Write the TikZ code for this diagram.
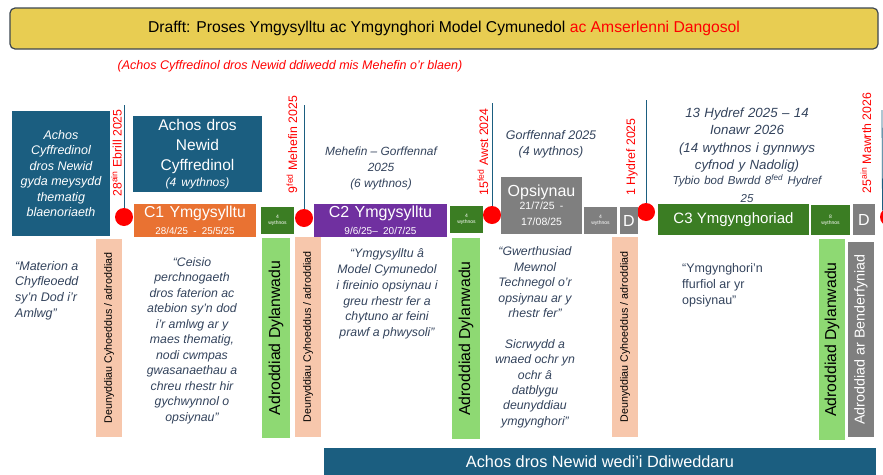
\documentclass[tikz,border=0pt]{standalone}
\usepackage{fontspec}
\setmainfont{Liberation Sans}
\definecolor{titley}{HTML}{E8CD52}
\definecolor{titleb}{HTML}{3C4650}
\definecolor{teal}{HTML}{1B5E80}
\definecolor{orng}{HTML}{E97232}
\definecolor{purp}{HTML}{7030A0}
\definecolor{dgreen}{HTML}{3B7D23}
\definecolor{lgreen}{HTML}{8ED973}
\definecolor{peach}{HTML}{F7C7AC}
\definecolor{gry}{HTML}{7F7F7F}
\definecolor{txtd}{HTML}{33435C}
\definecolor{redd}{HTML}{FF0000}
\newcommand\fs[2]{\fontsize{#1}{#2}\selectfont}
\begin{document}
\begin{tikzpicture}[x=1pt,y=-1pt,
  box/.style={inner sep=0pt, outer sep=0pt, align=center, text=white},
  tiny/.style={box, fill=#1, font=\fs{5}{6}},
  dbox/.style={box, fill=gry, font=\fs{16}{18}, minimum width=#1, minimum height=27},
  dot/.style={circle, fill=redd, minimum size=18pt, inner sep=0pt},
  vline/.style={draw=teal, line width=0.8pt},
  datetxt/.style={rotate=90, text=redd, font=\fs{12.3}{14}, inner sep=0pt},
  peachbar/.style={box, fill=peach, rotate=90, text=black, font=\fs{10.7}{12}, minimum width=200, minimum height=26},
  greenbar/.style={box, fill=lgreen, rotate=90, text=black, font=\fs{15.8}{18}, minimum width=200, minimum height=28},
  darkit/.style={inner sep=0pt, align=center, text=txtd, font=\fs{12.5}{16}\itshape},
  quote/.style={inner sep=0pt, align=center, text=txtd, font=\fs{12.3}{15.5}\itshape}
]
\useasboundingbox (0,0) rectangle (883,474);

% title
\node[box, text=black, fill=titley, draw=titleb, line width=1.2pt, rounded corners=5pt,
  minimum width=868, minimum height=41, font=\fs{15.7}{18}] (title) at (444,28.5)
  {Drafft: Proses Ymgysylltu ac Ymgynghori Model Cymunedol \textcolor{redd}{ac Amserlenni Dangosol}};
\node[inner sep=0pt, text=redd, font=\fs{12.5}{14}\itshape] (sub) at (290,66)
  {(Achos Cyffredinol dros Newid ddiwedd mis Mehefin o’r blaen)};

% left case
\node[box, fill=teal, minimum width=98, minimum height=125, font=\fs{12.5}{15.4}\itshape] (left) at (61,173.5)
  {Achos\\Cyffredinol\\dros Newid\\gyda meysydd\\thematig\\blaenoriaeth};

% dates, lines, dots
\coordinate (t1) at (124,105);
\coordinate (t2) at (304,105);
\coordinate (t3) at (492,103);
\coordinate (t4) at (646,100);
\coordinate (t5) at (882,110);
\node[dot] (d1) at (124,217) {};
\node[dot] (d2) at (304,218) {};
\node[dot] (d3) at (492,215) {};
\node[dot] (d4) at (646,212) {};
\node[dot] (d5) at (889,217) {};
\draw[vline] (t1) -- (d1.north);
\draw[vline] (t2) -- (d2.north);
\draw[vline] (t3) -- (d3.north);
\draw[vline] (t4) -- (d4.north);
\draw[vline] (t5) -- (d5.north west);
\node[datetxt] (dt1) at (116.5,153) {28\textsuperscript{ain} Ebrill 2025};
\node[datetxt] (dt2) at (292,144.5) {9\textsuperscript{fed} Mehefin 2025};
\node[datetxt] (dt3) at (483,152) {15\textsuperscript{fed} Awst 2024};
\node[datetxt] (dt4) at (632,157) {1 Hydref 2025};
\node[datetxt] (dt5) at (866,143) {25\textsuperscript{ain} Mawrth 2026};

% phase 1
\node[box, fill=teal, minimum width=129, minimum height=76, text width=125, font=\fs{15.5}{20}] (cyff) at (197.5,154)
  {Achos dros\\Newid\\Cyffredinol\\[-4pt]{\fs{12}{14}\itshape (4 wythnos)}};
\node[box, fill=orng, minimum width=122, minimum height=33, text width=120, font=\fs{15.8}{17}] (c1) at (195,220.5)
  {C1 Ymgysylltu\\{\fs{9.8}{12}28/4/25 - 25/5/25}};
\node[tiny=dgreen, minimum width=33, minimum height=27] (g1) at (277.5,220.5) {4\\wythnos};

% phase 2
\node[darkit, font=\fs{11.9}{16}\itshape] (meh) at (381,168) {Mehefin – Gorffennaf\\2025\\(6 wythnos)};
\node[box, fill=purp, minimum width=133, minimum height=33, text width=130, font=\fs{16}{17}] (c2) at (380.5,220.5)
  {C2 Ymgysylltu\\{\fs{10}{12}9/6/25– 20/7/25}};
\node[tiny=dgreen, minimum width=33, minimum height=27] (g2) at (466.5,219.5) {4\\wythnos};

% options
\node[darkit, font=\fs{12.5}{15.5}\itshape] (gorf) at (551,144.5) {Gorffennaf 2025\\(4 wythnos)};
\node[box, fill=gry, minimum width=81, minimum height=57, text width=80, font=\fs{16}{16}] (ops) at (541.5,205.5)
  {Opsiynau\\{\fs{10.5}{13}21/7/25 -\\17/08/25}};
\node[tiny=gry, minimum width=33, minimum height=27] (g3) at (600.5,220.5) {4\\wythnos};
\node[dbox=18] (D1) at (629,220.5) {D};

% phase 3
\node[darkit, text width=180, font=\fs{13.3}{17.6}\itshape] (hyd) at (747,155)
  {13 Hydref 2025 – 14\\Ionawr 2026\\(14 wythnos i gynnwys\\cyfnod y Nadolig)\\{\fs{11.5}{15}Tybio bod Bwrdd 8\textsuperscript{fed} Hydref\\25}};
\node[box, fill=dgreen, minimum width=151, minimum height=31, font=\fs{15}{17}] (c3) at (733.5,219.5) {C3 Ymgynghoriad};
\node[tiny=dgreen, minimum width=39, minimum height=30] (g4) at (830.5,220) {8\\wythnos};
\node[dbox=22, minimum height=31] (D2) at (864,219.5) {D};

% lower row
\node[quote, align=left, anchor=west, font=\fs{12.5}{15.7}\itshape] (q0) at (15,290.5)
  {“Materion a\\Chyfleoedd\\sy’n Dod i’r\\Amlwg”};
\node[peachbar, minimum width=198] (p1) at (109,338) {Deunyddiau Cyhoeddus / adroddiad};
\node[quote] (q1) at (192,340.5)
  {“Ceisio\\perchnogaeth\\dros faterion ac\\atebion sy’n dod\\i’r amlwg ar y\\maes thematig,\\nodi cwmpas\\gwasanaethau a\\chreu rhestr hir\\gychwynnol o\\opsiynau”};
\node[greenbar] (a1) at (276,338) {Adroddiad Dylanwadu};
\node[peachbar] (p2) at (308,337) {Deunyddiau Cyhoeddus / adroddiad};
\node[quote, font=\fs{12.3}{15.7}\itshape] (q2) at (387,294)
  {“Ymgysylltu â\\Model Cymunedol\\i fireinio opsiynau i\\greu rhestr fer a\\chytuno ar feini\\prawf a phwysoli”};
\node[greenbar, minimum width=201] (a2) at (466,338.5) {Adroddiad Dylanwadu};
\node[quote, font=\fs{12.3}{15.4}\itshape] (q3) at (535,337.5)
  {“Gwerthusiad\\Mewnol\\Technegol o’r\\opsiynau ar y\\rhestr fer”\\ \\Sicrwydd a\\wnaed ochr yn\\ochr â\\datblygu\\deunyddiau\\ymgynghori”};
\node[peachbar] (p3) at (625,337) {Deunyddiau Cyhoeddus / adroddiad};
\node[inner sep=0pt, align=left, anchor=west, text=txtd, font=\fs{12.5}{16}] (q4) at (682,285)
  {“Ymgynghori’n\\ffurfiol ar yr\\opsiynau”};
\node[greenbar, minimum width=201, minimum height=26] (a3) at (832,339.5) {Adroddiad Dylanwadu};
\node[box, fill=gry, rotate=90, font=\fs{14.3}{16}, minimum width=195, minimum height=26] (ben) at (861,339.5) {Adroddiad ar Benderfyniad};

% bottom bar
\node[box, fill=teal, minimum width=552, minimum height=28, font=\fs{16.3}{18}] (bar) at (600,462) {Achos dros Newid wedi’i Ddiweddaru};
\end{tikzpicture}
\end{document}
